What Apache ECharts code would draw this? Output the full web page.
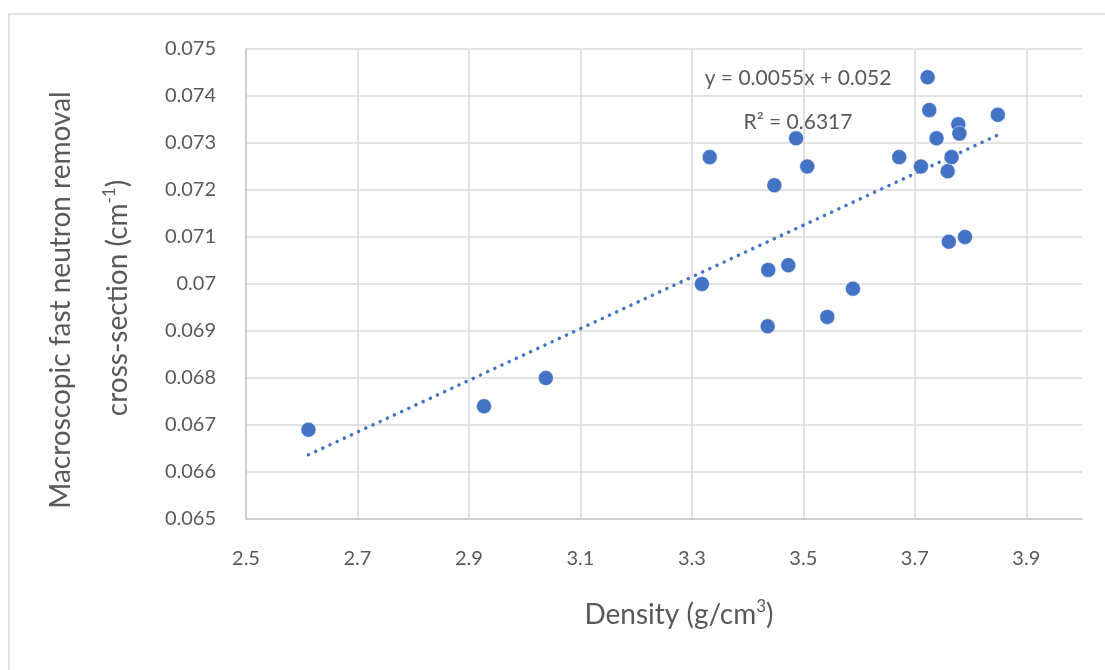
<!DOCTYPE html>
<html>
<head>
<meta charset="utf-8">
<script src="https://cdn.jsdelivr.net/npm/echarts@6/dist/echarts.min.js"></script>
<style>
  html, body { margin: 0; padding: 0; background: #ffffff; }
  #chart { width: 1105px; height: 670px; }
</style>
</head>
<body>
<div id="chart"></div>
<script>
// Density of each sample (g/cm3)
const density = [2.612, 2.927, 3.038, 3.318, 3.332, 3.448, 3.487, 3.507, 3.437, 3.473,
                 3.436, 3.543, 3.589, 3.672, 3.711, 3.723, 3.726, 3.739, 3.759, 3.766,
                 3.778, 3.780, 3.849, 3.761, 3.790];
// Macroscopic fast neutron removal cross-section (cm-1)
const removal = [0.0669, 0.0674, 0.0680, 0.0700, 0.0727, 0.0721, 0.0731, 0.0725, 0.0703, 0.0704,
                 0.0691, 0.0693, 0.0699, 0.0727, 0.0725, 0.0744, 0.0737, 0.0731, 0.0724, 0.0727,
                 0.0734, 0.0732, 0.0736, 0.0709, 0.0710];

// Linear trend line y = slope * x + intercept
const trendSlope = 0.0055;
const trendIntercept = 0.052;
const rSquared = '0.6317';

const xAxisRange = { min: 2.5, max: 4.0, step: 0.2 };
const yAxisRange = { min: 0.065, max: 0.075, step: 0.001 };

const FONT = 'Lato, "Open Sans", "Noto Sans", sans-serif';
const TEXT_GREY = '#595959';
const BLUE = '#4472C4';

const points = density.map((d, i) => [d, removal[i]]);
const xMin = Math.min(...density);
const xMax = Math.max(...density);
const trend = [xMin, xMax].map(x => [x, trendSlope * x + trendIntercept]);

// Rich-text styles shared by the axis titles (regular text + superscript)
const titleRich = {
  t: { fontFamily: FONT, fontSize: 28, fill: TEXT_GREY, lineHeight: 34 },
  s: { fontFamily: FONT, fontSize: 17, fill: TEXT_GREY, lineHeight: 17, verticalAlign: 'top' }
};

function titleText(x, y, text, rotation) {
  return {
    type: 'text',
    x: x, y: y,
    rotation: rotation || 0,
    silent: true,
    style: {
      text: text,
      align: 'center', verticalAlign: 'middle',
      textAlign: 'center', textVerticalAlign: 'middle',
      rich: titleRich
    }
  };
}

function noteText(x, y, text) {
  return {
    type: 'text',
    x: x, y: y,
    silent: true,
    style: {
      text: text,
      fontFamily: FONT, fontSize: 21, fill: TEXT_GREY,
      align: 'center', verticalAlign: 'middle',
      textAlign: 'center', textVerticalAlign: 'middle'
    }
  };
}

const chart = echarts.init(document.getElementById('chart'), null, { renderer: 'canvas' });

chart.setOption({
  animation: false,
  backgroundColor: '#ffffff',
  grid: { left: 246, right: 23, top: 49, bottom: 151, containLabel: false },
  xAxis: {
    type: 'value',
    min: xAxisRange.min,
    max: xAxisRange.max,
    interval: xAxisRange.step,
    axisLine: { show: true, onZero: false, lineStyle: { color: '#bfbfbf', width: 1.5 } },
    axisTick: { show: false },
    axisLabel: {
      color: TEXT_GREY, fontFamily: FONT, fontSize: 20, margin: 30,
      showMaxLabel: false,
      formatter: v => (Math.round(v * 10) / 10).toString()
    },
    splitLine: { show: true, showMinLine: false, showMaxLine: false, lineStyle: { color: '#d9d9d9', width: 1.5 } }
  },
  yAxis: {
    type: 'value',
    min: yAxisRange.min,
    max: yAxisRange.max,
    interval: yAxisRange.step,
    axisLine: { show: true, lineStyle: { color: '#bfbfbf', width: 1.5 } },
    axisTick: { show: false },
    axisLabel: {
      color: TEXT_GREY, fontFamily: FONT, fontSize: 20, margin: 30,
      formatter: v => parseFloat(v.toFixed(3)).toString()
    },
    splitLine: { show: true, showMinLine: false, lineStyle: { color: '#d9d9d9', width: 1.5 } }
  },
  series: [
    {
      name: 'Trend',
      type: 'line',
      data: trend,
      symbol: 'none',
      silent: true,
      lineStyle: { color: BLUE, width: 3.5, type: [0.1, 7.8], cap: 'round' },
      z: 2
    },
    {
      name: 'Samples',
      type: 'scatter',
      data: points,
      symbol: 'circle',
      symbolSize: 15,
      itemStyle: { color: BLUE, opacity: 1, borderColor: 'rgba(255,255,255,0.55)', borderWidth: 0.8 },
      z: 3
    }
  ],
  graphic: [
    {
      type: 'rect',
      silent: true,
      z: -10,
      shape: { x: 9, y: 14, width: 1200, height: 800 },
      style: { fill: 'none', stroke: '#d9d9d9', lineWidth: 1.5 }
    },
    noteText(798, 78, 'y = ' + trendSlope + 'x + ' + trendIntercept),
    noteText(798, 122, 'R\u00B2 = ' + rSquared),
    titleText(679, 615, '{t|Density (g/cm}{s|3}{t|)}'),
    titleText(61, 300, '{t|Macroscopic fast neutron removal}', Math.PI / 2),
    titleText(118, 298, '{t|cross-section (cm}{s|-1}{t|)}', Math.PI / 2)
  ]
});
</script>
</body>
</html>
